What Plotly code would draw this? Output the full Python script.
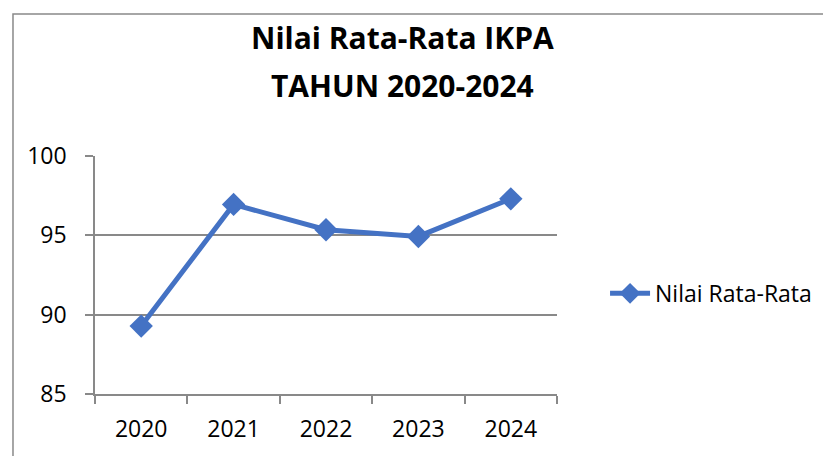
import plotly.graph_objects as go

# data
years = ["2020", "2021", "2022", "2023", "2024"]
nilai = [89.28, 96.95, 95.35, 94.93, 97.30]
series_name = "Nilai Rata-Rata"
title_lines = ["Nilai Rata-Rata IKPA", "TAHUN 2020-2024"]
y_ticks = [85, 90, 95, 100]

blue = "#4472C4"
grey = "#898989"
font_family = "Open Sans, Lato, sans-serif"

fig = go.Figure(go.Scatter(
    x=years, y=nilai, mode="lines+markers", name=series_name,
    line=dict(color=blue, width=5),
    marker=dict(symbol="diamond", size=18, color=blue),
))

# the page body has an 8px margin, so the figure is 8px smaller than the window
fig.update_layout(
    width=823, height=448,
    paper_bgcolor="white", plot_bgcolor="white",
    margin=dict(l=87, r=274, t=148, b=59),
    font=dict(family=font_family, color="#000000", size=22),
    showlegend=True,
    legend=dict(
        x=1.104, y=0.423, xanchor="left", yanchor="middle",
        font=dict(size=23), bgcolor="rgba(0,0,0,0)", itemwidth=40,
    ),
    xaxis=dict(
        type="category", range=[-0.5, 4.5], tickson="boundaries",
        ticks="outside", ticklen=8, tickcolor=grey, tickwidth=1.5,
        showline=True, linecolor=grey, linewidth=1.5, showgrid=False,
        tickfont=dict(size=23), ticklabelstandoff=14,
    ),
    yaxis=dict(
        range=[85, 100], tickvals=y_ticks,
        ticks="outside", ticklen=8, tickcolor=grey, tickwidth=1.5,
        showline=True, linecolor=grey, linewidth=1.5,
        showgrid=True, gridcolor=grey, gridwidth=1.5, zeroline=False,
        tickfont=dict(size=23), ticklabelstandoff=14,
    ),
    shapes=[dict(
        type="rect", xref="paper", yref="paper",
        x0=-0.1775, x1=1.64, y0=-0.35, y1=1.597,
        line=dict(color=grey, width=1.5), fillcolor="rgba(0,0,0,0)",
        layer="below",
    )],
)

for text, ypos in zip(title_lines, [1.497, 1.298]):
    fig.add_annotation(
        text=f"<b>{text}</b>", xref="paper", yref="paper",
        x=0.666, y=ypos, xanchor="center", yanchor="middle",
        showarrow=False, font=dict(family=font_family, size=30, color="#000000"),
    )

fig.write_html("out.html")
